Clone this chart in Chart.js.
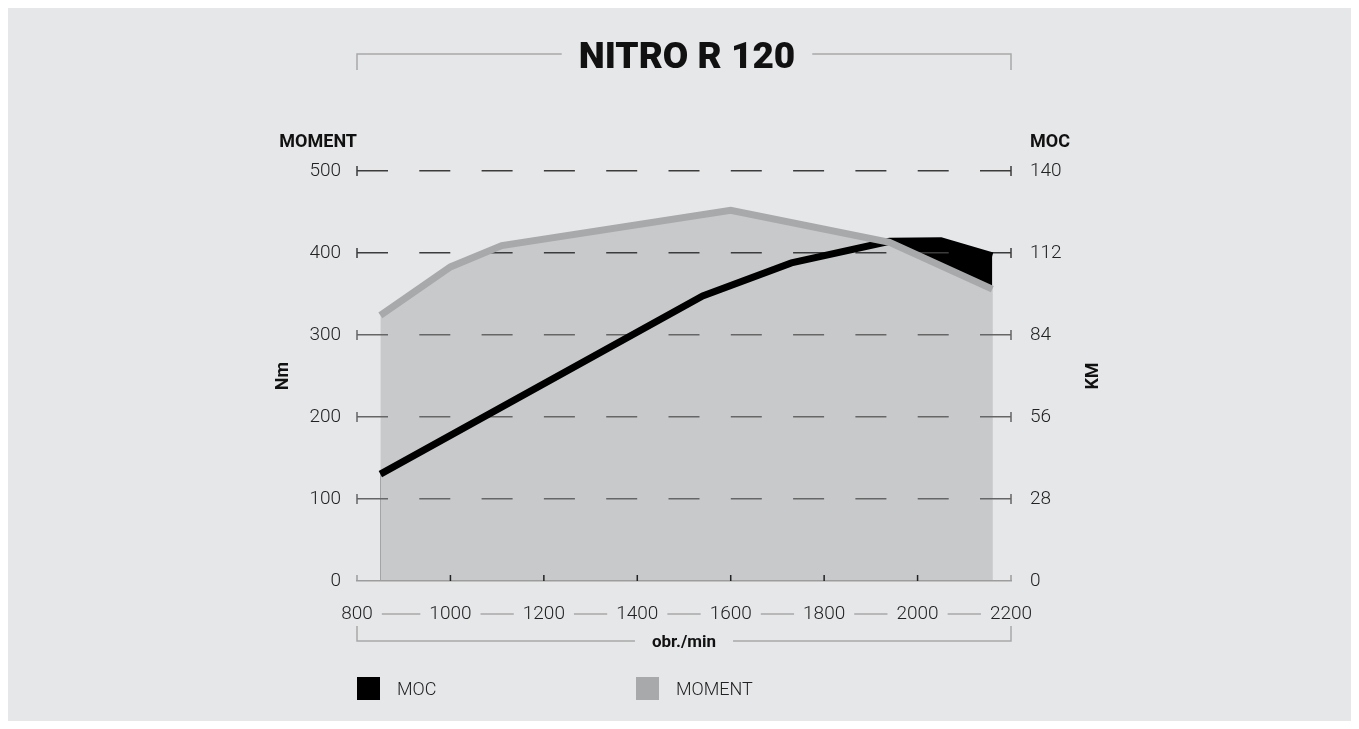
<!DOCTYPE html>
<html>
<head>
<meta charset="utf-8">
<title>NITRO R 120</title>
<script src="https://cdn.jsdelivr.net/npm/chart.js@4.4.1/dist/chart.umd.min.js"></script>
<style>
    html, body { margin: 0; padding: 0; background: #fff; }
    body { padding: 8px; }
    .panel { position: relative; width: 1343px; height: 713px; background: #e6e7e9; }
</style>
</head>
<body>
<div class="panel"><canvas id="torqueChart"></canvas></div>
<script>
    // rpm / Nm for torque, rpm / kW for power
    const momentRpm = [850, 1000, 1110, 1600, 1940, 2160];
    const momentNm = [324, 383, 409, 452, 413, 356];
    const mocRpm = [850, 1540, 1730, 1940, 2050, 2160];
    const mocKw = [36.5, 97.3, 108.6, 116, 116.2, 111];

    const rpmRange = [800, 2200];
    const nmTicks = [0, 100, 200, 300, 400, 500];
    const kwTicks = [0, 28, 56, 84, 112, 140];

    const labels = {
        title: "NITRO R 120",
        left: "MOMENT",
        right: "MOC",
        leftUnit: "Nm",
        rightUnit: "KM",
        xUnit: "obr./min"
    };

    const LIGHT = "300 19px Roboto, 'DejaVu Sans', sans-serif";
    const BOLD = "bold 18px Roboto, 'DejaVu Sans', sans-serif";
    const TITLE_FONT = "900 37px Roboto, 'DejaVu Sans', sans-serif";
    const BRACKET = "#a9a9a9";

    const toPoints = (xs, ys) => xs.map((x, i) => ({ x: x, y: ys[i] }));

    const gridColor = ctx => {
        const v = ctx.tick ? ctx.tick.value : 0;
        if (v === 0) return "rgba(0,0,0,0)";
        return v >= 400 ? "#3c3c3c" : "#666";
    };

    // brackets, axis captions, end ticks and legend
    const decor = {
        id: "decor",
        afterDraw(chart) {
            const { ctx, chartArea: a, scales } = chart;
            const x = scales.x, y = scales.y;
            ctx.save();
            ctx.lineWidth = 1.5;

            // title bracket
            const tb = chart.titleBlock;
            const tc = (tb.left + tb.right) / 2;
            ctx.font = TITLE_FONT;
            const tw = ctx.measureText(labels.title).width;
            const by = 46;
            ctx.strokeStyle = BRACKET;
            ctx.beginPath();
            ctx.moveTo(a.left, by + 16); ctx.lineTo(a.left, by); ctx.lineTo(tc - tw / 2 - 17, by);
            ctx.moveTo(tc + tw / 2 + 17, by); ctx.lineTo(a.right, by); ctx.lineTo(a.right, by + 16);
            ctx.stroke();

            // axis headers
            ctx.fillStyle = "#111";
            ctx.font = BOLD;
            ctx.textBaseline = "middle";
            ctx.textAlign = "right";
            ctx.fillText(labels.left, a.left, 134);
            ctx.textAlign = "left";
            ctx.fillText(labels.right, a.right + 19, 134);

            // rotated unit captions
            const midY = (a.top + a.bottom) / 2;
            [[275, labels.leftUnit], [1085, labels.rightUnit]].forEach(([cx, t]) => {
                ctx.save();
                ctx.translate(cx, midY);
                ctx.rotate(-Math.PI / 2);
                ctx.textAlign = "center";
                ctx.fillText(t, 0, 0);
                ctx.restore();
            });

            // small end ticks on grid lines
            nmTicks.forEach(v => {
                const py = y.getPixelForValue(v);
                ctx.strokeStyle = v === 0 ? "#9d9d9d" : (v >= 400 ? "#3c3c3c" : "#666");
                ctx.beginPath();
                if (v === 0) {
                    ctx.moveTo(a.left, py - 6); ctx.lineTo(a.left, py);
                    ctx.moveTo(a.right, py - 6); ctx.lineTo(a.right, py);
                } else {
                    ctx.moveTo(a.left, py - 5); ctx.lineTo(a.left, py + 5);
                    ctx.moveTo(a.right, py - 5); ctx.lineTo(a.right, py + 5);
                }
                ctx.stroke();
            });

            // x tick marks pointing up
            ctx.strokeStyle = "#222";
            x.ticks.forEach(t => {
                if (t.value <= rpmRange[0] || t.value >= rpmRange[1]) return;
                const px = x.getPixelForValue(t.value);
                ctx.beginPath();
                ctx.moveTo(px, a.bottom); ctx.lineTo(px, a.bottom - 6);
                ctx.stroke();
            });

            // connectors between x labels
            ctx.font = LIGHT;
            ctx.strokeStyle = BRACKET;
            const ly = 606;
            for (let i = 0; i < x.ticks.length - 1; i++) {
                const p1 = x.getPixelForValue(x.ticks[i].value);
                const p2 = x.getPixelForValue(x.ticks[i + 1].value);
                const w1 = ctx.measureText(String(x.ticks[i].value)).width;
                const w2 = ctx.measureText(String(x.ticks[i + 1].value)).width;
                ctx.beginPath();
                ctx.moveTo(p1 + w1 / 2 + 9, ly);
                ctx.lineTo(p2 - w2 / 2 - 9, ly);
                ctx.stroke();
            }

            // x unit bracket
            const xb = 633;
            const xc = (a.left + a.right) / 2;
            ctx.font = "bold 17px Roboto, 'DejaVu Sans', sans-serif";
            const xw = ctx.measureText(labels.xUnit).width;
            ctx.beginPath();
            ctx.moveTo(a.left, xb - 15); ctx.lineTo(a.left, xb); ctx.lineTo(xc - xw / 2 - 17, xb);
            ctx.moveTo(xc + xw / 2 + 17, xb); ctx.lineTo(a.right, xb); ctx.lineTo(a.right, xb - 15);
            ctx.stroke();
            ctx.fillStyle = "#111";
            ctx.textAlign = "center";
            ctx.fillText(labels.xUnit, xc, xb + 2);

            // legend
            const items = [
                { ds: chart.data.datasets[1], x: 349, color: "#000" },
                { ds: chart.data.datasets[0], x: 628, color: "#a8a9ab" }
            ];
            ctx.font = "300 18px Roboto, 'DejaVu Sans', sans-serif";
            ctx.textAlign = "left";
            items.forEach(it => {
                ctx.fillStyle = it.color;
                ctx.fillRect(it.x, 669, 23, 23);
                ctx.fillStyle = "#222";
                ctx.fillText(it.ds.label, it.x + 40, 682);
            });

            ctx.restore();
        }
    };

    new Chart(document.getElementById("torqueChart"), {
        type: "line",
        data: {
            datasets: [
                {
                    label: "MOMENT",
                    data: toPoints(momentRpm, momentNm),
                    yAxisID: "y",
                    borderColor: "#a8a9ab",
                    backgroundColor: "#c8c9cb",
                    borderWidth: 7,
                    fill: "origin",
                    pointRadius: 0,
                    tension: 0,
                    borderJoinStyle: "miter",
                    borderCapStyle: "butt"
                },
                {
                    label: "MOC",
                    data: toPoints(mocRpm, mocKw),
                    yAxisID: "y1",
                    borderColor: "#000",
                    backgroundColor: "#000",
                    borderWidth: 7,
                    fill: "origin",
                    pointRadius: 0,
                    tension: 0,
                    borderJoinStyle: "miter",
                    borderCapStyle: "butt"
                }
            ]
        },
        options: {
            responsive: true,
            maintainAspectRatio: false,
            animation: false,
            events: [],
            layout: { padding: { left: 15, right: 0, top: 0, bottom: 0 }, autoPadding: false },
            plugins: {
                legend: { display: false },
                tooltip: { enabled: false },
                filler: { drawTime: "beforeDraw" },
                title: {
                    display: true,
                    text: labels.title,
                    color: "#111",
                    font: { family: "Roboto, 'DejaVu Sans', sans-serif", size: 37, weight: "900", lineHeight: 1 },
                    padding: { top: 32, bottom: 94 }
                }
            },
            scales: {
                x: {
                    type: "linear",
                    min: rpmRange[0],
                    max: rpmRange[1],
                    afterFit: s => { s.height = 140; },
                    grid: { display: false, drawTicks: false },
                    border: { display: true, color: "#9d9d9d", width: 1.5 },
                    ticks: {
                        stepSize: 200,
                        padding: 22,
                        color: "#222",
                        font: { family: "Roboto, 'DejaVu Sans', sans-serif", size: 19, weight: "300" },
                        callback: v => String(v)
                    }
                },
                y: {
                    position: "left",
                    min: nmTicks[0],
                    max: nmTicks[nmTicks.length - 1],
                    afterFit: s => { s.width = 334; },
                    grid: { color: gridColor, lineWidth: 1.5, drawTicks: false },
                    border: { display: false, dash: [31, 31.3] },
                    ticks: {
                        stepSize: 100,
                        padding: 16,
                        color: "#222",
                        font: { family: "Roboto, 'DejaVu Sans', sans-serif", size: 19, weight: "300" },
                        callback: v => String(v)
                    }
                },
                y1: {
                    position: "right",
                    min: kwTicks[0],
                    max: kwTicks[kwTicks.length - 1],
                    afterFit: s => { s.width = 340; },
                    grid: { display: false, drawTicks: false },
                    border: { display: false },
                    ticks: {
                        stepSize: 28,
                        padding: 19,
                        color: "#222",
                        font: { family: "Roboto, 'DejaVu Sans', sans-serif", size: 19, weight: "300" },
                        callback: v => String(v)
                    }
                }
            }
        },
        plugins: [decor]
    });
</script>
</body>
</html>
